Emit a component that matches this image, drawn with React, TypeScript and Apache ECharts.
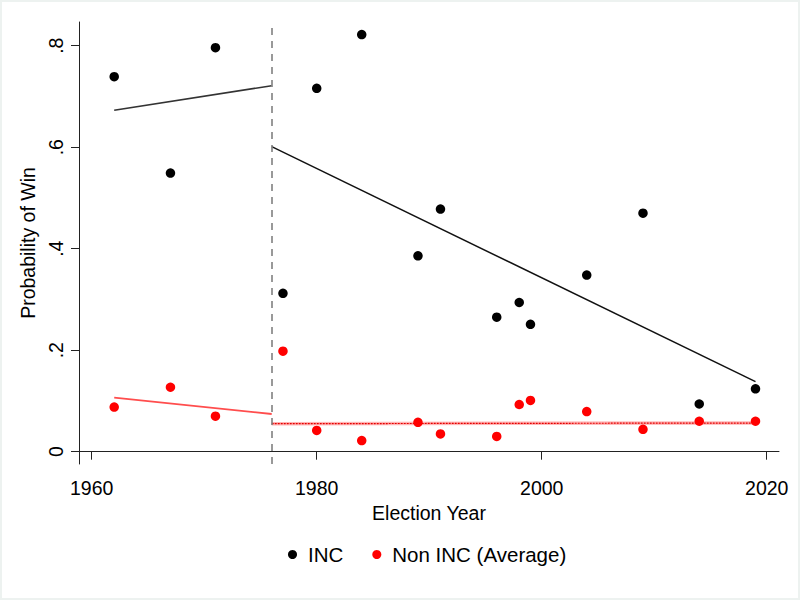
import React, { useEffect, useRef } from "react";
import * as echarts from "echarts";

const incYears = [1962, 1967, 1971, 1977, 1980, 1984, 1989, 1991, 1996, 1998, 1999, 2004, 2009, 2014, 2019];
const incValues = [0.739, 0.549, 0.796, 0.312, 0.716, 0.822, 0.386, 0.478, 0.265, 0.294, 0.251, 0.348, 0.47, 0.094, 0.124];
const nonIncValues = [0.088, 0.127, 0.07, 0.198, 0.042, 0.022, 0.058, 0.035, 0.03, 0.093, 0.101, 0.079, 0.044, 0.06, 0.06];

const cutoffYear = 1976;
const incFitPre = [[1962, 0.6727], [1976, 0.7212]];
const incFitPost = [[1976, 0.601], [2019, 0.138]];
const nonIncFitPre = [[1962, 0.1064], [1976, 0.0743]];
const nonIncFitPost = [[1976, 0.0552], [2019, 0.0565]];

const xTicks = [1960, 1980, 2000, 2020];
const yTicks = [0, 0.2, 0.4, 0.6, 0.8];

const FONT = "Liberation Sans, Arial, Helvetica, sans-serif";
const FS = 19.5;

export default function App() {
  const ref = useRef<HTMLDivElement>(null);
  useEffect(() => {
    if (!ref.current) return;
    const chart = echarts.init(ref.current, undefined, { renderer: "svg" });
    const incData = incYears.map((y, i) => [y, incValues[i]]);
    const nonIncData = incYears.map((y, i) => [y, nonIncValues[i]]);
    const axisColor = "#222";
    chart.setOption({
      animation: false,
      backgroundColor: "#ffffff",
      textStyle: { fontFamily: FONT },
      grid: { left: 79, right: 21, top: 22, bottom: 136 },
      legend: {
        left: 283,
        top: 539,
        data: ["INC", "Non INC (Average)"],
        icon: "circle",
        itemWidth: 9,
        itemHeight: 9,
        itemGap: 29,
        itemStyle: { opacity: 1 },
        textStyle: { fontFamily: FONT, fontSize: 20.5, color: "#000", padding: [0, 0, 0, 6] },
      },
      xAxis: {
        type: "value",
        min: 1958.871,
        max: 2021.089,
        name: "Election Year",
        nameLocation: "middle",
        nameGap: 36,
        nameTextStyle: { fontFamily: FONT, fontSize: FS, color: "#000" },
        axisLine: { show: true, lineStyle: { color: axisColor, width: 1 } },
        axisTick: { show: true, length: 8, customValues: xTicks, lineStyle: { color: axisColor } },
        axisLabel: {
          customValues: xTicks,
          margin: 14,
          fontFamily: FONT,
          fontSize: FS,
          color: "#000",
          formatter: (v: number) => String(Math.round(v)),
        },
        splitLine: { show: false },
      },
      yAxis: {
        type: "value",
        min: -0.02424,
        max: 0.8467,
        name: "Probability of Win",
        nameLocation: "middle",
        nameGap: 37,
        nameTextStyle: { fontFamily: FONT, fontSize: FS, color: "#000" },
        axisLine: { show: true, lineStyle: { color: axisColor, width: 1 } },
        axisTick: { show: true, length: 8, customValues: yTicks, lineStyle: { color: axisColor } },
        axisLabel: {
          customValues: yTicks,
          rotate: 90,
          margin: 13,
          fontFamily: FONT,
          fontSize: FS,
          color: "#000",
          formatter: (v: number) => (v === 0 ? "0" : String(Math.round(v * 10) / 10).replace(/^0/, "")),
        },
        splitLine: { show: false },
      },
      series: [
        {
          name: "INC",
          type: "scatter",
          data: incData,
          symbolSize: 9.5,
          itemStyle: { color: "#000", opacity: 1 },
          z: 5,
          markLine: {
            silent: true,
            symbol: ["none", "none"],
            label: { show: false },
            lineStyle: { color: "#808080", type: [7, 6], width: 1.6 },
            data: [{ xAxis: cutoffYear }],
          },
        },
        {
          name: "Non INC (Average)",
          type: "scatter",
          data: nonIncData,
          symbolSize: 9.5,
          itemStyle: { color: "#ff0000", opacity: 1 },
          z: 5,
        },
        {
          type: "line",
          data: incFitPre,
          symbol: "none",
          lineStyle: { color: "#333", width: 1.6 },
          z: 3,
        },
        {
          type: "line",
          data: incFitPost,
          symbol: "none",
          lineStyle: { color: "#111", width: 1.5 },
          z: 3,
        },
        {
          type: "line",
          data: nonIncFitPre,
          symbol: "none",
          lineStyle: { color: "#ff4d4d", width: 1.8 },
          z: 3,
        },
        {
          type: "line",
          data: nonIncFitPost,
          symbol: "none",
          lineStyle: { color: "rgba(255,90,90,0.45)", width: 3.5 },
          z: 3,
        },
        {
          type: "line",
          data: nonIncFitPost,
          symbol: "none",
          lineStyle: { color: "#e60000", width: 1.2, type: [2, 1] },
          z: 4,
        },
      ],
    });
    return () => chart.dispose();
  }, []);
  return (
    <div style={{ position: "absolute", left: 0, top: 0, width: 800, height: 600 }}>
      <div ref={ref} style={{ width: 800, height: 600 }} />
      <div
        style={{
          position: "absolute",
          left: 0,
          top: 0,
          width: 800,
          height: 600,
          boxSizing: "border-box",
          border: "2px solid #edf2f0",
          pointerEvents: "none",
        }}
      />
    </div>
  );
}
